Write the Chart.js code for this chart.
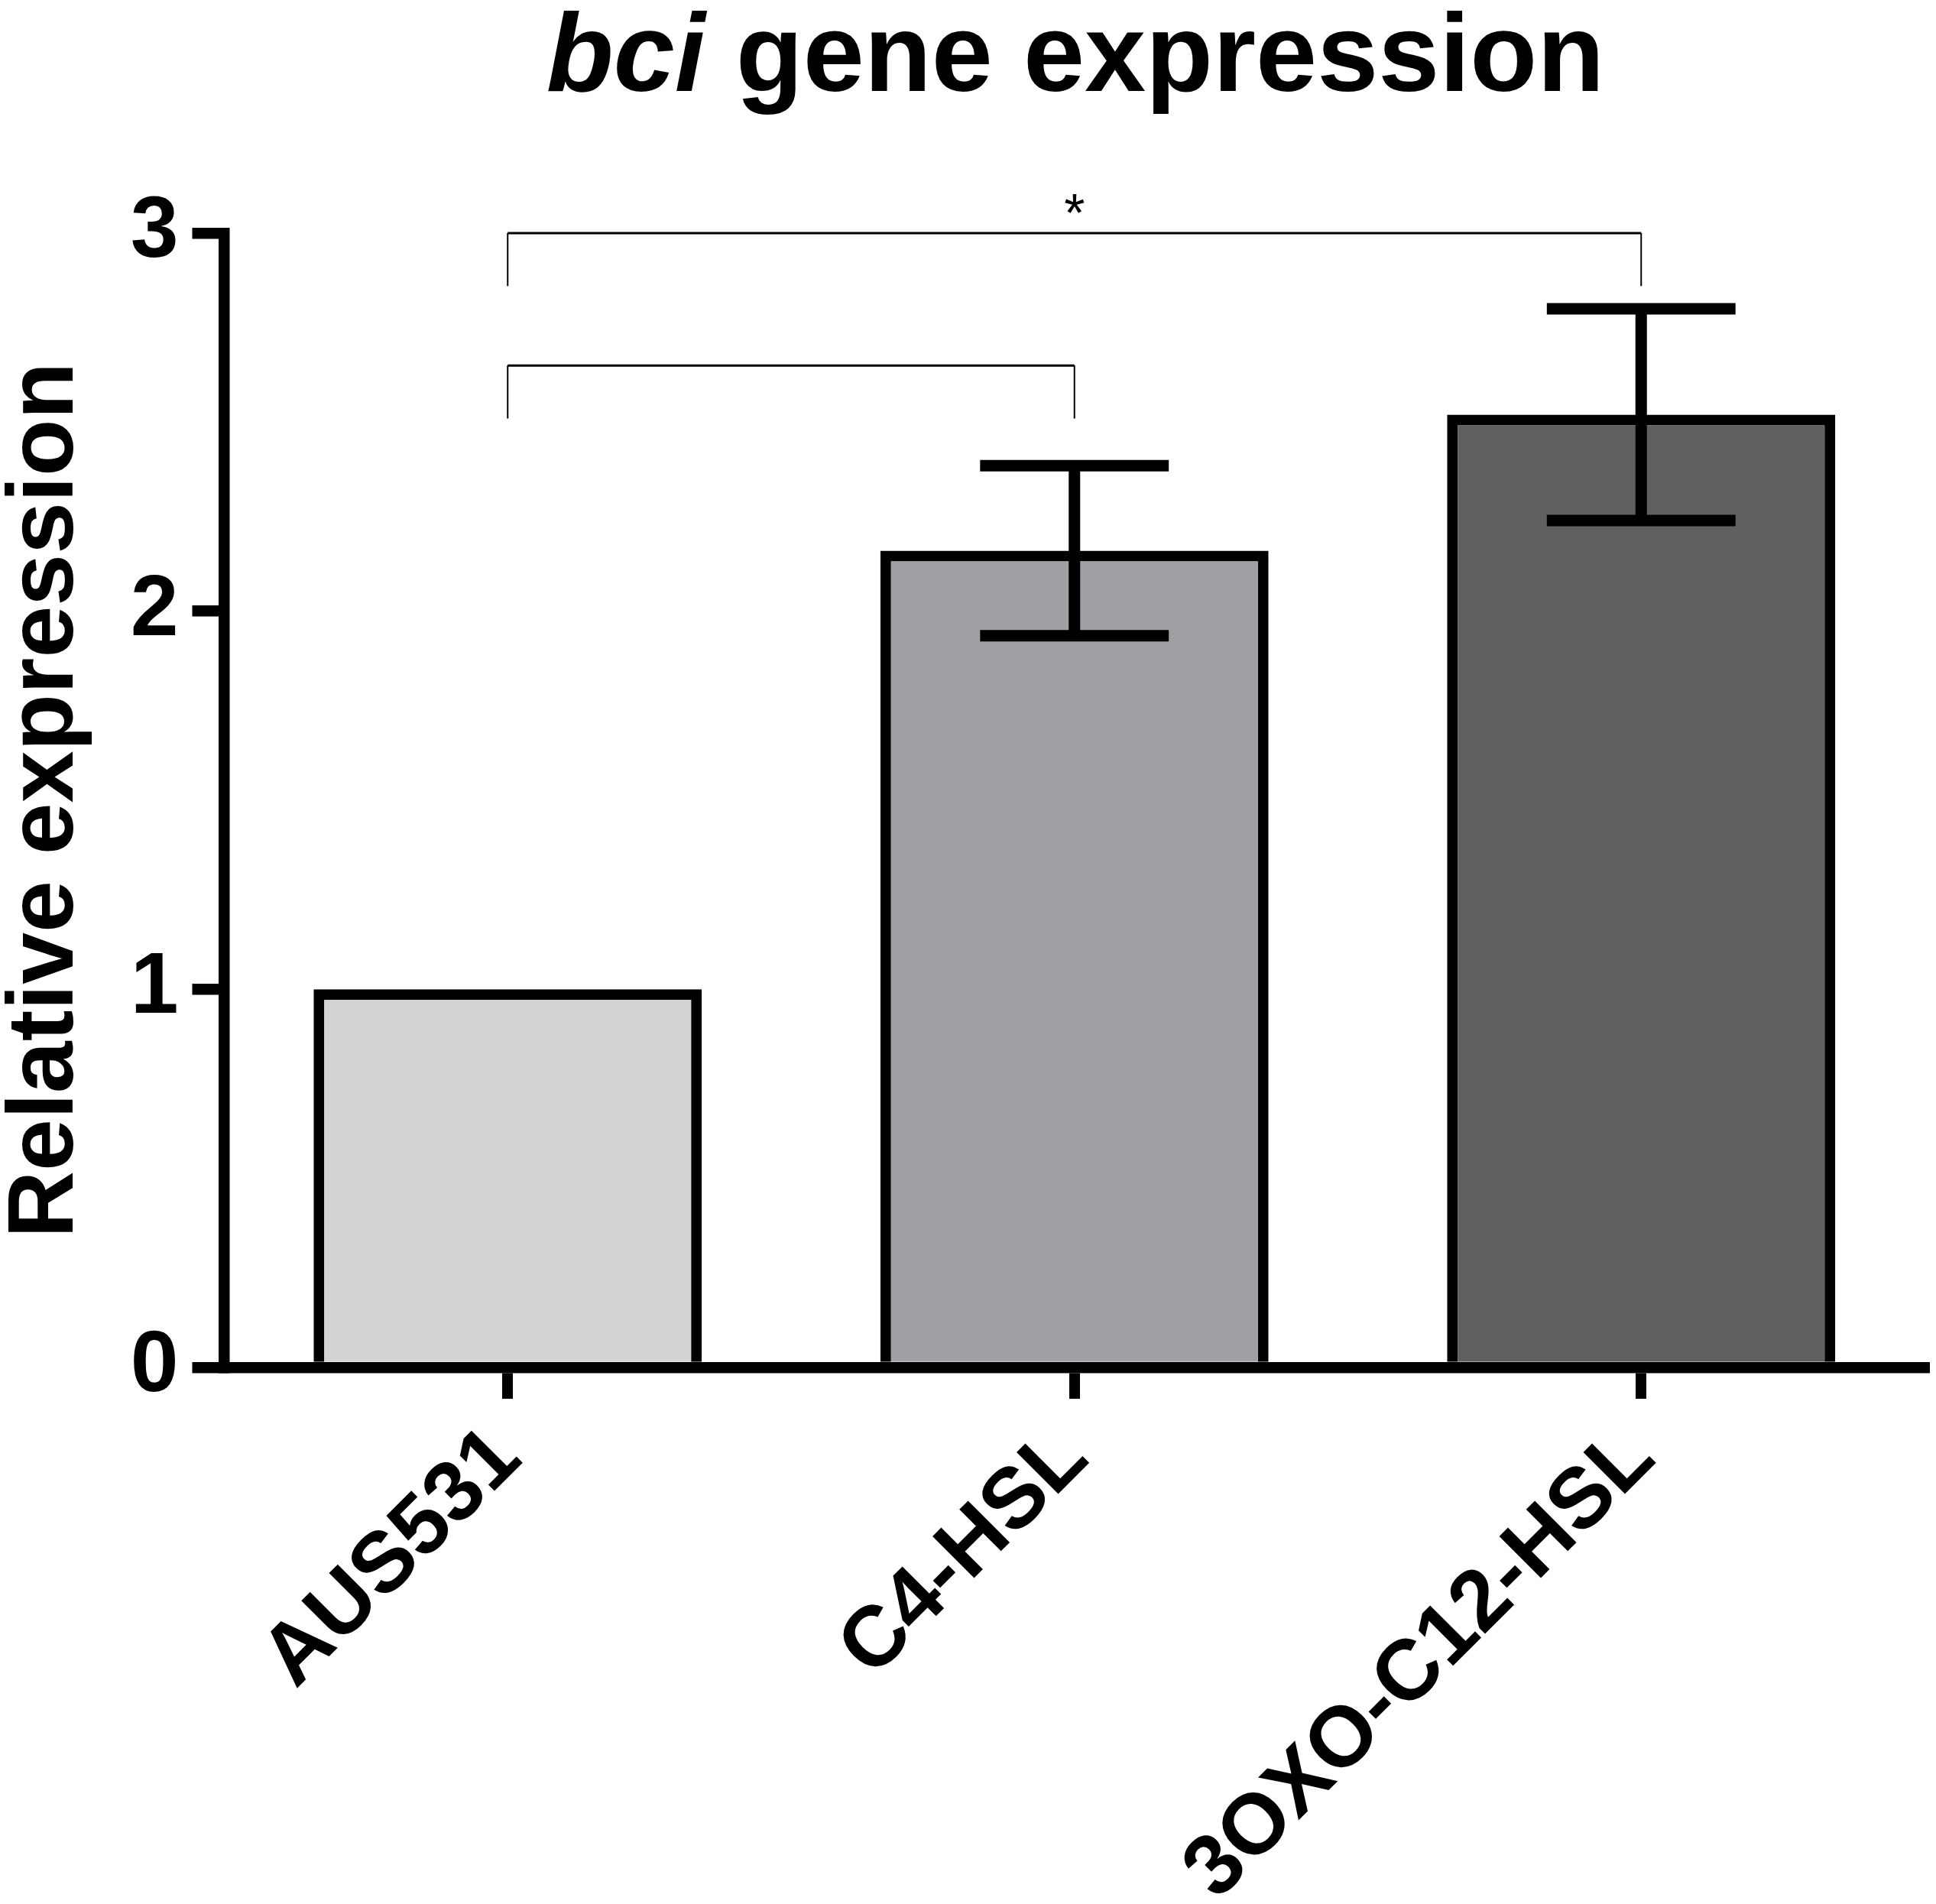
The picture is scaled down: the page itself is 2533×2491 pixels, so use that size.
<!DOCTYPE html>
<html>
<head>
<meta charset="utf-8">
<title>bci gene expression</title>
<script src="https://cdn.jsdelivr.net/npm/chart.js@4.4.1/dist/chart.umd.min.js"></script>
<style>
  html, body { margin: 0; padding: 0; background: #fff; }
  #wrap { position: relative; width: 2533px; height: 2491px; }
  #title {
    position: absolute; top: -2px; left: 1407px; transform: translateX(-50%);
    font: bold 144px/144px 'Liberation Sans', Arial, sans-serif;
    white-space: nowrap; color: #000;
  }
  canvas { position: absolute; left: 0; top: 0; }
</style>
</head>
<body>
<div id="wrap">
  <canvas id="bciChart" width="2533" height="2491"></canvas>
  <div id="title"><i>bci</i> gene expression</div>
</div>
<script>
const groups = ['AUS531', 'C4-HSL', '3OXO-C12-HSL'];
const meanExpression = [1.0, 2.16, 2.52];
const errorSize = [0, 0.225, 0.28];
const barColors = ['#d3d3d3', '#a0a0a4', '#606060'];
const yTicks = [0, 1, 2, 3];

// significance brackets between groups
const bracketPairs = [[0, 1], [0, 2]];
const bracketHeights = [2.65, 3.0];
const bracketDrop = [0.14, 0.14];
const bracketLabels = ['', '*'];

Chart.defaults.font.family = "'Liberation Sans', Arial, sans-serif";
Chart.defaults.color = '#000';

const errorBarPlugin = {
  id: 'errorBars',
  afterDatasetsDraw(chart) {
    const ctx = chart.ctx;
    const y = chart.scales.y;
    const bars = chart.getDatasetMeta(0).data;
    ctx.save();
    ctx.strokeStyle = '#000';
    ctx.lineWidth = 15;
    bars.forEach((bar, i) => {
      if (!errorSize[i]) return;
      const top = y.getPixelForValue(meanExpression[i] + errorSize[i]);
      const bottom = y.getPixelForValue(meanExpression[i] - errorSize[i]);
      const half = bar.width * 0.243;
      ctx.beginPath();
      ctx.moveTo(bar.x, top);
      ctx.lineTo(bar.x, bottom);
      ctx.moveTo(bar.x - half, top);
      ctx.lineTo(bar.x + half, top);
      ctx.moveTo(bar.x - half, bottom);
      ctx.lineTo(bar.x + half, bottom);
      ctx.stroke();
    });
    ctx.restore();
  }
};

const bracketPlugin = {
  id: 'brackets',
  afterDatasetsDraw(chart) {
    const { ctx, scales: { x, y } } = chart;
    ctx.save();
    ctx.strokeStyle = '#000';
    ctx.fillStyle = '#000';
    bracketPairs.forEach(([a, b], i) => {
      const x1 = x.getPixelForValue(a);
      const x2 = x.getPixelForValue(b);
      const yTop = y.getPixelForValue(bracketHeights[i]);
      const yEnd = y.getPixelForValue(bracketHeights[i] - bracketDrop[i]);
      ctx.lineWidth = 3;
      ctx.beginPath();
      ctx.moveTo(x1, yTop);
      ctx.lineTo(x2, yTop);
      ctx.stroke();
      ctx.lineWidth = 2;
      ctx.beginPath();
      ctx.moveTo(x1, yTop);
      ctx.lineTo(x1, yEnd);
      ctx.moveTo(x2, yTop);
      ctx.lineTo(x2, yEnd);
      ctx.stroke();
      if (bracketLabels[i]) {
        ctx.font = "70px 'Liberation Sans', Arial, sans-serif";
        ctx.textAlign = 'center';
        ctx.textBaseline = 'alphabetic';
        ctx.fillText(bracketLabels[i], (x1 + x2) / 2, yTop - 2);
      }
    });
    ctx.restore();
  }
};

new Chart(document.getElementById('bciChart'), {
  type: 'bar',
  data: {
    labels: groups,
    datasets: [{
      data: meanExpression,
      backgroundColor: barColors,
      borderColor: '#000',
      borderWidth: 14,
      categoryPercentage: 1,
      barPercentage: 0.685
    }]
  },
  options: {
    responsive: false,
    devicePixelRatio: 1,
    animation: false,
    layout: { padding: { top: 305, right: 15, bottom: 0, left: 0 } },
    plugins: {
      legend: { display: false },
      tooltip: { enabled: false }
    },
    scales: {
      x: {
        offset: true,
        grid: { offset: false, drawOnChartArea: false, color: '#000', lineWidth: 14, tickLength: 41 },
        border: { color: '#000', width: 14.5, z: 1 },
        ticks: {
          color: '#000',
          font: { size: 112, weight: 'bold' },
          minRotation: 45,
          maxRotation: 45,
          autoSkip: false,
          padding: 12
        },
        afterFit: scale => { scale.height = 702; }
      },
      y: {
        min: 0,
        max: 3,
        afterBuildTicks: scale => { scale.ticks = yTicks.map(v => ({ value: v })); },
        grid: { drawOnChartArea: false, color: '#000', lineWidth: 14.5, tickLength: 42 },
        border: { color: '#000', width: 14.5, z: 1 },
        ticks: { color: '#000', font: { size: 113, weight: 'bold' }, padding: 18 },
        title: {
          display: true,
          text: 'Relative expression',
          color: '#000',
          font: { size: 122, weight: 'bold', lineHeight: 1 },
          padding: 0
        },
        afterFit: scale => { scale.width = 293.5; }
      }
    }
  },
  plugins: [errorBarPlugin, bracketPlugin]
});
</script>
</body>
</html>
